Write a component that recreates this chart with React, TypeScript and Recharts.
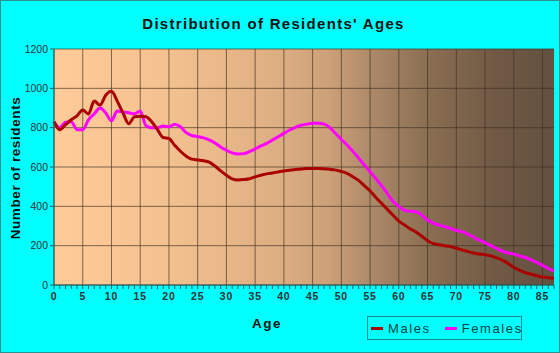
import { LineChart, Line, XAxis, YAxis, CartesianGrid } from 'recharts'

const males = [
  830, 790, 815, 840, 860, 890, 870, 935, 915, 965,
  985, 935, 875, 820, 855, 858, 856, 830, 790, 750,
  745, 710, 680, 655, 640, 636, 632, 625, 605, 580,
  558, 540, 534, 536, 540, 550, 558, 565, 570, 575,
  580, 584, 587, 590, 592, 593, 593, 591, 588, 584,
  577, 568, 550, 532, 505, 478, 445, 415, 385, 355,
  325, 305, 285, 270, 248, 225, 210, 205, 200, 195,
  187, 178, 170, 163, 158, 154, 148, 138, 127, 110,
  90, 75, 63, 55, 47, 41, 37, 34,
]

const females = [
  830, 800, 828, 830, 790, 790, 840, 870, 900, 875,
  835, 885, 880, 876, 870, 885, 810, 800, 800, 808,
  805, 818, 805, 775, 760, 755, 748, 738, 722, 702,
  685, 672, 666, 668, 678, 692, 707, 720, 737, 754,
  771, 788, 802, 812, 818, 822, 822, 818, 800, 770,
  740, 712, 680, 645, 610, 576, 540, 505, 465, 425,
  400, 380, 375, 373, 355, 330, 314, 305, 296, 288,
  278, 271, 258, 243, 228, 215, 200, 186, 172, 163,
  157, 148, 140, 128, 115, 100, 85, 71,
]

const ages = males.map((_, i) => i)
const yTicks = [0, 200, 400, 600, 800, 1000, 1200]
const gridAges = [0, 5, 10, 15, 20, 25, 30, 35, 40, 45, 50, 55, 60, 65, 70, 75, 80, 85]

const data = ages.map((age, i) => ({ age, males: males[i], females: females[i] }))

const font = 'Arial, "Liberation Sans", sans-serif'

// eslint-disable-next-line @typescript-eslint/no-explicit-any
function AgeTick(props: any) {
  const { x, y, payload } = props
  if (payload.value % 5 !== 0) return <g />
  return (
    <text x={x} y={y + 9} textAnchor="middle" fontSize={10.5} fontWeight="bold"
      fill="#333" fontFamily={font} letterSpacing={0.8}>
      {payload.value}
    </text>
  )
}

function LegendBox() {
  const item = (color: string, label: string) => (
    <span style={{ display: 'inline-flex', alignItems: 'center', marginRight: 14 }}>
      <span style={{ width: 12, height: 3, background: color, marginRight: 5 }} />
      <span>{label}</span>
    </span>
  )
  return (
    <div style={{
      position: 'absolute', left: 366, top: 315,
      border: '1px solid #1a8a8a', width: 155, height: 24, boxSizing: 'border-box',
      display: 'flex', alignItems: 'center', paddingLeft: 3, fontFamily: font,
      fontSize: 13, letterSpacing: 1.6, color: '#0a4040',
    }}>
      {item('#aa0000', 'Males')}
      {item('#ff00ff', 'Females')}
    </div>
  )
}

export default function App() {
  return (
    <div style={{
      position: 'absolute', left: 0, top: 0, width: 560, height: 353,
      background: '#00ffff', boxSizing: 'border-box', border: '1px solid #2a9090',
      overflow: 'hidden',
    }}>
      <div style={{
        position: 'absolute', left: 0, width: 545, top: 14, textAlign: 'center',
        fontFamily: font, fontWeight: 'bold', fontSize: 15, letterSpacing: 1.3, color: '#111',
      }}>
        Distribution of Residents' Ages
      </div>
      <div style={{
        position: 'absolute', left: 266, top: 315, transform: 'translateX(-50%)',
        fontFamily: font, fontWeight: 'bold', fontSize: 13.5, letterSpacing: 1.5, color: '#111',
      }}>
        Age
      </div>
      <div style={{
        position: 'absolute', left: 14, top: 167, transform: 'translate(-50%, -50%) rotate(-90deg)',
        whiteSpace: 'nowrap', fontFamily: font, fontWeight: 'bold', fontSize: 13.5,
        letterSpacing: 0.6, color: '#111',
      }}>
        Number of residents
      </div>
      <div style={{ position: 'absolute', left: -1, top: -1 }}>
        <LineChart width={560} height={353} data={data}
          margin={{ top: 49, right: 6, left: 14, bottom: 48 }}>
          <defs>
            <linearGradient id="plotBg" x1="0" y1="0" x2="1" y2="0">
              <stop offset="0%" stopColor="#ffcc99" />
              <stop offset="25%" stopColor="#f2bf8e" />
              <stop offset="45%" stopColor="#ddae82" />
              <stop offset="55%" stopColor="#cca078" />
              <stop offset="65%" stopColor="#a88566" />
              <stop offset="75%" stopColor="#8a6e52" />
              <stop offset="88%" stopColor="#715a45" />
              <stop offset="100%" stopColor="#625040" />
            </linearGradient>
          </defs>
          <CartesianGrid fill="url(#plotBg)" fillOpacity={1} stroke="rgba(60,48,36,0.65)"
            verticalValues={gridAges} horizontalValues={yTicks} />
          <XAxis dataKey="age" type="number" domain={[0, 87]} ticks={ages} interval={0}
            tick={<AgeTick />} tickSize={4} height={20}
            axisLine={{ stroke: '#2a6060' }} tickLine={{ stroke: '#2a6060' }} />
          <YAxis domain={[0, 1200]} ticks={yTicks} width={40} tickSize={4}
            tick={{ fontSize: 10.5, fill: '#333', fontFamily: font }}
            axisLine={{ stroke: '#2a6060' }} tickLine={{ stroke: '#2a6060' }} />
          <Line type="monotone" dataKey="females" name="Females" stroke="#ff00ff"
            strokeWidth={3} dot={false} isAnimationActive={false} />
          <Line type="monotone" dataKey="males" name="Males" stroke="#aa0000"
            strokeWidth={3} dot={false} isAnimationActive={false} />
        </LineChart>
      </div>
      <LegendBox />
    </div>
  )
}
